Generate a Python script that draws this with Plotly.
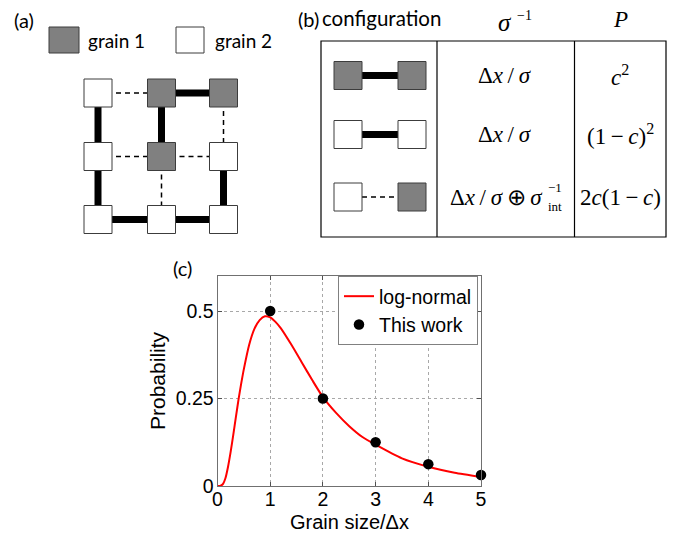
import plotly.graph_objects as go

W, H = 683, 533

# ---------------- data ----------------
curve_x = [0.0, 0.05, 0.1, 0.15, 0.2, 0.25, 0.3, 0.35, 0.4, 0.45, 0.5, 0.6, 0.7, 0.8, 0.9,
           1.0, 1.1, 1.2, 1.4, 1.6, 1.8, 2.0, 2.25, 2.5, 2.75, 3.0, 3.5, 4.0, 4.5, 5.0]
curve_y = [0.0, 0.0003, 0.005, 0.022, 0.055, 0.098, 0.147, 0.198, 0.248, 0.293, 0.334, 0.403,
           0.449, 0.474, 0.485, 0.482, 0.469, 0.451, 0.404, 0.353, 0.302, 0.254, 0.209, 0.171,
           0.140, 0.118, 0.079, 0.055, 0.038, 0.026]
work_x = [1, 2, 3, 4, 5]
work_y = [0.5, 0.25, 0.125, 0.0625, 0.03125]
series_names = ["log-normal", "This work"]
x_ticks = [0, 1, 2, 3, 4, 5]
y_ticks = [0, 0.25, 0.5]
y_ticktext = ["0", "0.25", "0.5"]

grid_grains = [["w", "g", "g"],
               ["w", "g", "w"],
               ["w", "w", "w"]]
grid_bonds = [(0, 0, 0, 1, "d"), (0, 1, 0, 2, "s"),
              (1, 0, 1, 1, "d"), (1, 1, 1, 2, "d"),
              (2, 0, 2, 1, "s"), (2, 1, 2, 2, "s"),
              (0, 0, 1, 0, "s"), (1, 0, 2, 0, "s"),
              (0, 1, 1, 1, "s"), (1, 1, 2, 1, "d"),
              (0, 2, 1, 2, "d"), (1, 2, 2, 2, "s")]
legend_labels = ["grain 1", "grain 2"]

table_config = [("g", "g", "s"), ("w", "w", "s"), ("w", "g", "d")]
table_headers = ["configuration", "<i>σ</i>", "<i>P</i>"]
table_sigma = ["Δ<i>x</i>\u2009/\u2009<i>σ</i>", "Δ<i>x</i>\u2009/\u2009<i>σ</i>",
               "Δ<i>x</i>\u2009/\u2009<i>σ</i>\u2009⊕\u2009<i>σ</i>"]
table_P = ["<i>c</i><sup>2</sup>", "(1\u2009−\u2009<i>c</i>)<sup>2</sup>",
           "2<i>c</i>(1\u2009−\u2009<i>c</i>)"]

# ---------------- helpers ----------------
def X(px):
    return px / W


def Y(py):
    return 1 - py / H


GRAY = "#808080"
EDGE = "#3c3c3c"
SANS = "Lato"
SERIF = "Liberation Serif"
ARIAL = "Liberation Sans"

shapes = []
annotations = []


def rect(x0, y0, x1, y1, fill, lw=1, lc=EDGE):
    shapes.append(dict(type="rect", xref="paper", yref="paper",
                       x0=X(x0), x1=X(x1), y0=Y(y1), y1=Y(y0),
                       fillcolor=fill, line=dict(color=lc, width=lw), layer="above"))


def line(x0, y0, x1, y1, kind):
    if kind == "s":
        ln = dict(color="black", width=7)
    elif kind == "d":
        ln = dict(color="black", width=1.5, dash="5px,4px")
    else:
        ln = dict(color="black", width=1.2)
    shapes.append(dict(type="line", xref="paper", yref="paper",
                       x0=X(x0), x1=X(x1), y0=Y(y0), y1=Y(y1), line=ln, layer="above"))


def text(x, y, s, size=19, family=SANS, xanchor="center", angle=0, color="black"):
    annotations.append(dict(xref="paper", yref="paper", x=X(x), y=Y(y), text=s,
                            showarrow=False, xanchor=xanchor, yanchor="middle",
                            textangle=angle, font=dict(family=family, size=size, color=color)))


def fillc(k):
    return GRAY if k == "g" else "white"


# ---------------- panel (a) ----------------
text(24, 20, "(a)", size=20)
rect(49, 27, 79, 53, GRAY)
text(86, 41, legend_labels[0], xanchor="left")
rect(176, 27, 204, 53, "white")
text(213, 41, legend_labels[1], xanchor="left")

gx = [98, 161.5, 223.5]
gy = [93, 156.5, 219.5]
half = 14
for r1, c1, r2, c2, k in grid_bonds:
    line(gx[c1], gy[r1], gx[c2], gy[r2], k)
for r, row in enumerate(grid_grains):
    for c, k in enumerate(row):
        rect(gx[c] - half, gy[r] - half, gx[c] + half, gy[r] + half, fillc(k))

# ---------------- panel (b) ----------------
text(308, 19, "(b)", size=20)
text(381, 18, table_headers[0], size=20.5)
text(505, 23, table_headers[1], size=25, family=SERIF)
text(515, 16, "−1", size=14, family=SERIF, xanchor="left")
text(620, 20, table_headers[2], size=23, family=SERIF)

rect(321, 41, 666, 237, "rgba(0,0,0,0)", lw=1.2, lc="black")
line(437, 41, 437, 237, "t")
line(574.5, 41, 574.5, 237, "t")

row_y = [75.5, 134.5, 197]
for i, (a, b, k) in enumerate(table_config):
    yc = row_y[i]
    line(362, yc, 398, yc, k)
    rect(334, yc - 14, 362, yc + 14, fillc(a))
    rect(398, yc - 14, 426, yc + 14, fillc(b))

text(505, row_y[0], table_sigma[0], size=23, family=SERIF)
text(505, row_y[1], table_sigma[1], size=23, family=SERIF)
text(545, row_y[2], table_sigma[2], size=23, family=SERIF, xanchor="right")
text(546, row_y[2] - 9, "−1", size=13, family=SERIF, xanchor="left")
text(546, row_y[2] + 9, "int", size=13, family=SERIF, xanchor="left")
for i in range(3):
    text(620, row_y[i], table_P[i], size=23, family=SERIF)

# ---------------- panel (c) ----------------
text(182, 268, "(c)", size=20)
text(349, 522, "Grain size/Δx", size=20, family=ARIAL)
text(157, 381, "Probability", size=21, family=ARIAL, angle=-90)

fig = go.Figure()
fig.add_trace(go.Scatter(x=curve_x, y=curve_y, mode="lines", name=series_names[0],
                         line=dict(color="#ff0000", width=2, shape="spline", smoothing=0.6)))
fig.add_trace(go.Scatter(x=work_x, y=work_y, mode="markers", name=series_names[1],
                         marker=dict(color="black", size=10.5), cliponaxis=False))

px_l, px_r, py_t, py_b = 217.5, 481, 276, 486
axis_common = dict(showline=True, mirror="ticks", linecolor="#707070", linewidth=1,
                   ticks="inside", ticklen=4, tickcolor="#505050",
                   showgrid=True, gridcolor="#a8a8a8", griddash="dot", gridwidth=1,
                   zeroline=False, automargin=False,
                   tickfont=dict(family=ARIAL, size=19.5, color="black"))
fig.update_layout(
    width=W, height=H, autosize=False,
    margin=dict(l=0, r=0, t=0, b=0, pad=0, autoexpand=False),
    paper_bgcolor="white", plot_bgcolor="white",
    xaxis=dict(domain=[X(px_l), X(px_r)], range=[0, 5], tickvals=x_ticks,
               ticklabelstandoff=-4, **axis_common),
    yaxis=dict(domain=[Y(py_b), Y(py_t)], range=[0, 0.6], tickvals=y_ticks,
               ticktext=y_ticktext, ticklabelstandoff=-1, **axis_common),
    showlegend=True,
    legend=dict(x=X(478), xanchor="right", y=Y(276), yanchor="top",
                bgcolor="white", bordercolor="#808080", borderwidth=1,
                font=dict(family=ARIAL, size=19.5, color="black"), itemwidth=30,
                tracegroupgap=0),
    shapes=shapes,
    annotations=annotations,
)

fig.write_html("out.html")
